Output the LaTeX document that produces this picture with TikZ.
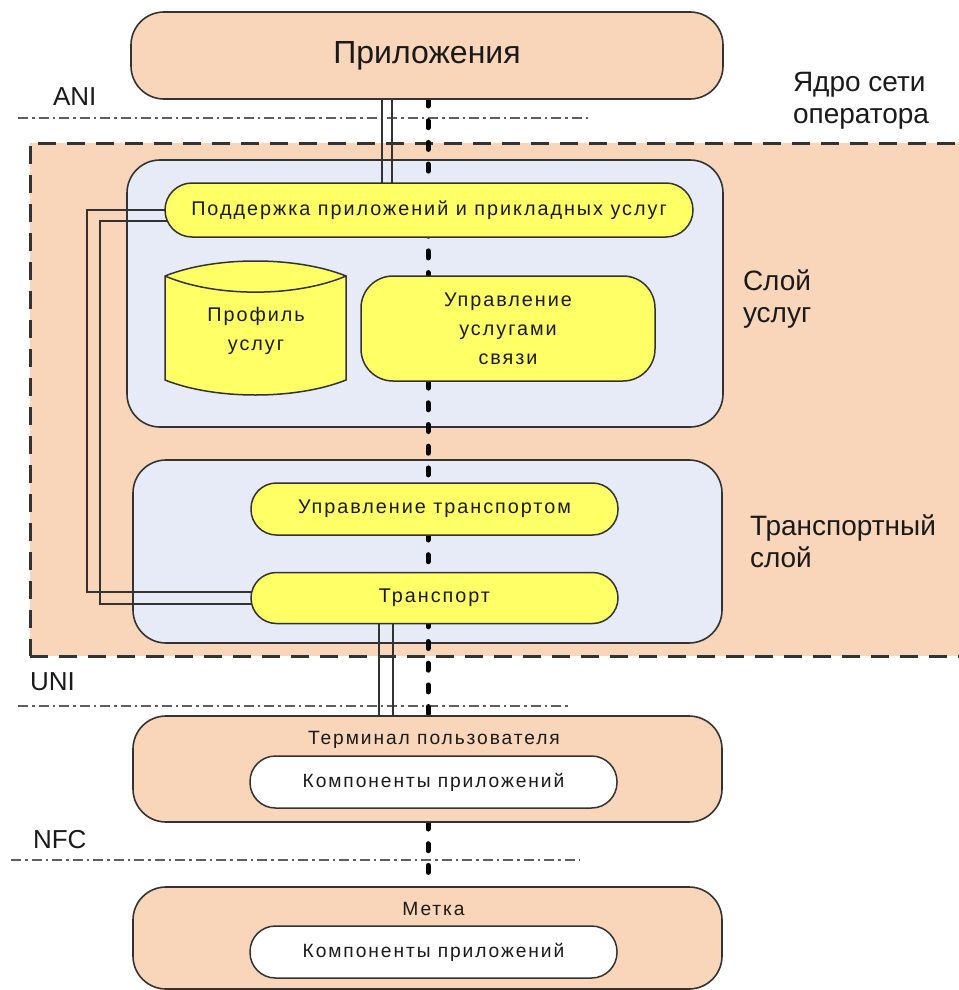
\documentclass[tikz,border=0pt]{standalone}
\usepackage{fontspec}
\setmainfont{Liberation Sans}
\newfontfamily\spacedfont[LetterSpace=10]{Liberation Sans}
\usetikzlibrary{calc}
\definecolor{peach}{HTML}{F9D6B9}
\definecolor{paleblue}{HTML}{E7EBF7}
\definecolor{yel}{HTML}{FFFF66}
\definecolor{edge}{HTML}{333333}
\definecolor{ifgray}{HTML}{5E5E5E}
\definecolor{txt}{HTML}{1A1A1A}
\pgfdeclarelayer{bg}
\pgfdeclarelayer{wires}
\pgfsetlayers{bg,wires,main}
\newcommand{\boxtext}{\spacedfont\fontsize{19.8}{29}\selectfont}
\newcommand{\smalltext}{\spacedfont\fontsize{19.2}{29}\selectfont}
\newcommand{\bigtext}{\fontsize{28}{32.5}\selectfont}
\begin{document}
\begin{tikzpicture}[x=1pt,y=-1pt,
  every node/.style={inner sep=0pt, outer sep=0pt, text=txt},
  corebox/.style={draw=edge, fill=peach, line width=3pt, dash pattern=on 18pt off 11pt},
  peachbox/.style={draw=edge, fill=peach, line width=1.6pt, rounded corners=33pt},
  bluebox/.style={draw=edge, fill=paleblue, line width=1.6pt, rounded corners=33pt},
  pillbox/.style={draw=edge, fill=yel, line width=1.5pt, rounded corners=25.5pt, font=\boxtext, align=center},
  whitepill/.style={draw=edge, fill=white, line width=1.5pt, rounded corners=25.5pt, font=\smalltext},
  iface/.style={draw=ifgray, line width=1.8pt, dash pattern=on 10pt off 4pt on 2.5pt off 4pt},
  wire/.style={draw=edge, line width=1.4pt},
  dotline/.style={draw=black, line width=5pt, line cap=round, dash pattern=on 7pt off 14.7pt},
  sidelabel/.style={anchor=west, align=left, font=\bigtext}
]
\useasboundingbox (0,0) rectangle (958,990);

% operator core area and the two layers
\begin{pgfonlayer}{bg}
  \node[corebox, anchor=north west, minimum width=960pt, minimum height=513pt] (core) at (30,143) {};
  \node[bluebox, minimum width=596pt, minimum height=267pt] (svc) at (425,293.5) {};
  \node[bluebox, minimum width=589pt, minimum height=183pt] (trl) at (427.5,551.5) {};
\end{pgfonlayer}

% top-level boxes
\node[peachbox, minimum width=592pt, minimum height=87pt, font=\fontsize{32}{36}\selectfont] (app) at (427,55.5) {Приложения};
\node[peachbox, minimum width=589pt, minimum height=106pt] (term) at (427.5,769) {};
\node[font=\smalltext] (termlbl) at (434,740) {Терминал пользователя};
\node[whitepill, minimum width=367pt, minimum height=52pt] (termcomp) at (433.5,782) {Компоненты приложений};
\node[peachbox, minimum width=589pt, minimum height=102pt] (tag) at (427.5,938) {};
\node[font=\smalltext] (taglbl) at (433.5,909) {Метка};
\node[whitepill, minimum width=367pt, minimum height=52pt] (tagcomp) at (433.5,952) {Компоненты приложений};

% service layer functions
\node[pillbox, minimum width=528pt, minimum height=54pt, rounded corners=27pt] (sup) at (429,210) {Поддержка приложений и прикладных услуг};
\node[pillbox, minimum width=294pt, minimum height=105pt, rounded corners=32pt] (svcctl) at (508,328.5) {Управление\\услугами\\связи};
\draw[draw=edge, fill=yel, line width=1.5pt]
  (165,276) -- (165,380) .. controls (215,400) and (296,400) .. (346,380)
  -- (346,276) .. controls (296,256) and (215,256) .. (165,276) -- cycle;
\draw[draw=edge, line width=1.5pt] (165,276) .. controls (215,297.5) and (296,297.5) .. (346,276);
\node[font=\boxtext, align=center] (prof) at (256,331) {Профиль\\услуг};

% transport layer functions
\node[pillbox, minimum width=367pt, minimum height=52pt] (trctl) at (434.5,509) {Управление транспортом};
\node[pillbox, minimum width=367pt, minimum height=51pt] (tr) at (434.5,598) {Транспорт};

% interface lines and labels
\coordinate (ani0) at (18,118);  \coordinate (ani1) at (590,118);
\coordinate (uni0) at (18,706);  \coordinate (uni1) at (568,706);
\coordinate (nfc0) at (11,860);  \coordinate (nfc1) at (580,860);
\node[sidelabel, font=\fontsize{26}{30}\selectfont] (anilbl) at (53,97) {ANI};
\node[sidelabel, font=\fontsize{26}{30}\selectfont] (unilbl) at (30,682) {UNI};
\node[sidelabel, font=\fontsize{26}{30}\selectfont] (nfclbl) at (33,840) {NFC};
\node[sidelabel] (corelbl) at (793,101) {Ядро сети\\оператора};
\node[sidelabel] (svclbl) at (743,299) {Слой\\услуг};
\node[sidelabel] (trlbl) at (750,541) {Транспортный\\слой};

% connections
\coordinate (dotx) at (428,0);
\coordinate (wa) at (382,0); \coordinate (wb) at (392,0);
\coordinate (wc) at (379,0); \coordinate (wd) at (393,0);
\coordinate (lo) at (87,0);  \coordinate (li) at (100,0);
\coordinate (suphi) at ([xshift=5pt]sup.west);
\coordinate (suplo) at ([xshift=5pt,yshift=-11pt]sup.west);
\coordinate (trhi) at ([xshift=5pt,yshift=6pt]tr.west);
\coordinate (trlo) at ([xshift=5pt,yshift=-6pt]tr.west);
\begin{pgfonlayer}{wires}
  \draw[iface] (ani0) -- (ani1);
  \draw[iface] (uni0) -- (uni1);
  \draw[iface] (nfc0) -- (nfc1);
  \draw[wire] (app.south -| wa) -- (sup.north -| wa);
  \draw[wire] (app.south -| wb) -- (sup.north -| wb);
  \draw[wire] (tr.south -| wc) -- (term.north -| wc);
  \draw[wire] (tr.south -| wd) -- (term.north -| wd);
  \draw[wire] (suphi) -- (suphi -| lo) -- (trhi -| lo) -- (trhi);
  \draw[wire] (suplo) -- (suplo -| li) -- (trlo -| li) -- (trlo);
  \draw[dotline] (app.south -| dotx) -- (term.north -| dotx);
  \draw[dotline] (term.south -| dotx) -- (tag.north -| dotx);
\end{pgfonlayer}
\end{tikzpicture}
\end{document}
